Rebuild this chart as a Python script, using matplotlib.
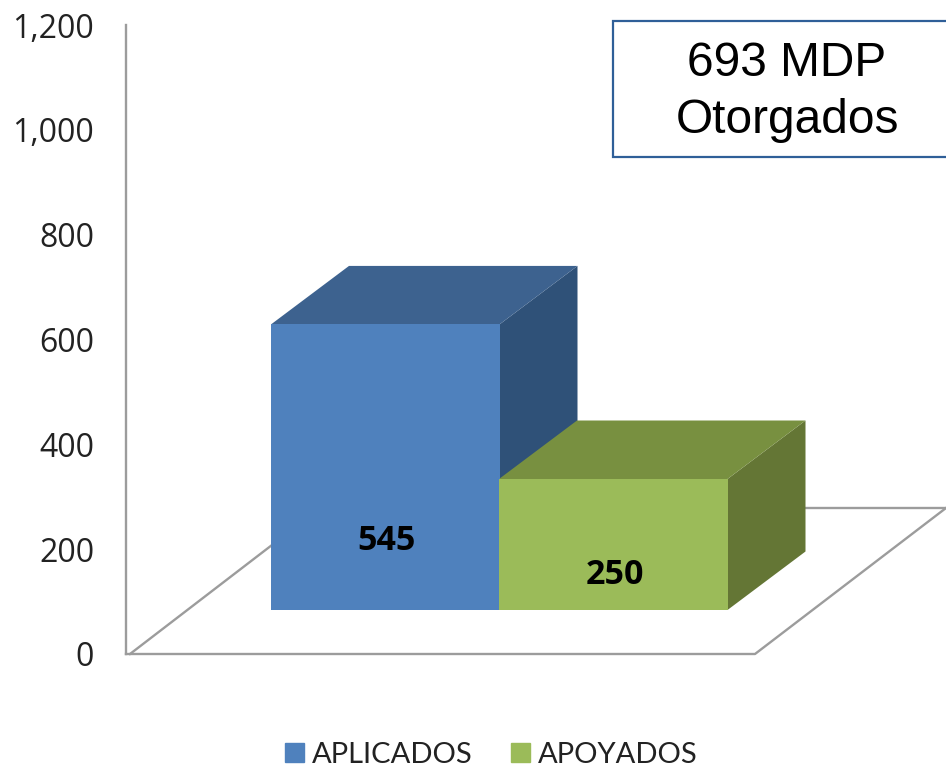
import matplotlib
matplotlib.use("Agg")
import matplotlib.pyplot as plt
from matplotlib.patches import Patch, Polygon, Rectangle

categories = ["APLICADOS", "APOYADOS"]
values = [545, 250]
bar_labels = ["545", "250"]
y_ticks = [0, 200, 400, 600, 800, 1000, 1200]
y_tick_labels = ["0", "200", "400", "600", "800", "1,000", "1,200"]
box_text = "693 MDP\nOtorgados"

front_colors = ["#4F81BD", "#9BBB59"]
top_colors = ["#3D628F", "#789040"]
side_colors = ["#2F5178", "#647635"]

W, H = 946, 768
PX = 0.524  # pixels per value unit
fig = plt.figure(figsize=(W / 100, H / 100), dpi=100)
ax = fig.add_axes([0, 0, 1, 1])
ax.set_xlim(0, W)
ax.set_ylim(-(H - 654) / PX, 654 / PX)


def py(p):
    # pixel row to value units, for the floor and the depth offsets
    return (654 - p) / PX


# Floor
grey = "#9C9C9C"
ax.plot([126, 755, 946], [py(654), py(654), py(508)], color=grey, lw=1.7)
ax.plot([130, 272], [py(654), py(545)], color=grey, lw=1.7)
ax.plot([806, 946], [py(508), py(508)], color=grey, lw=1.7)

# Bars, each one a front, top and side face
base = py(610)
dx, dy = 78, 58.5 / PX
bar_x = [271, 499]
bar_w = 228.5
for x, v, fc, tc, sc in zip(bar_x, values, front_colors, top_colors, side_colors):
    ax.add_patch(Polygon([(x + bar_w, base), (x + bar_w + dx, base + dy),
                          (x + bar_w + dx, base + v + dy), (x + bar_w, base + v)],
                         fc=sc, ec="none", zorder=3))
    ax.add_patch(Polygon([(x, base + v), (x + dx, base + v + dy),
                          (x + bar_w + dx, base + v + dy), (x + bar_w, base + v)],
                         fc=tc, ec="none", zorder=3))
    ax.add_patch(Rectangle((x, base), bar_w, v, fc=fc, ec="none", zorder=4))

# Value labels
ax.text(386, py(541), bar_labels[0], fontsize=24.5, fontweight="bold", family="Open Sans",
        ha="center", va="center", color="black", zorder=5)
ax.text(615, py(574.5), bar_labels[1], fontsize=24.5, fontweight="bold", family="Open Sans",
        ha="center", va="center", color="black", zorder=5)

# Axis
for s in ["top", "right", "bottom"]:
    ax.spines[s].set_visible(False)
ax.spines["left"].set_position(("data", 126))
ax.spines["left"].set_bounds(0, 1200)
ax.spines["left"].set_color(grey)
ax.spines["left"].set_linewidth(1.7)
ax.set_xticks([])
ax.set_yticks(y_ticks)
ax.set_yticklabels(y_tick_labels, fontsize=23, family="Open Sans", color="#222222")
ax.tick_params(axis="y", length=0, pad=23)

# Text box
ax.add_patch(Rectangle((613, py(157)), 340, py(21) - py(157), fc="white", ec="#2F5F98",
                       lw=1.6, zorder=6))
ax.text(787, py(92), box_text, fontsize=34.5, family="Liberation Sans", ha="center",
        va="center", linespacing=1.34, color="black", zorder=7)

# Legend
handles = [Patch(color=c, label=n) for c, n in zip(front_colors, categories)]
ax.legend(handles=handles, ncol=2, frameon=False, loc="center", bbox_to_anchor=(0.5195, 0.0175),
          prop={"family": "Lato", "size": 21}, handlelength=0.65, handleheight=0.65,
          handletextpad=0.27, columnspacing=1.32, labelcolor="#222222", borderpad=0.1)

fig.savefig("out.png", dpi=100)
plt.close()
